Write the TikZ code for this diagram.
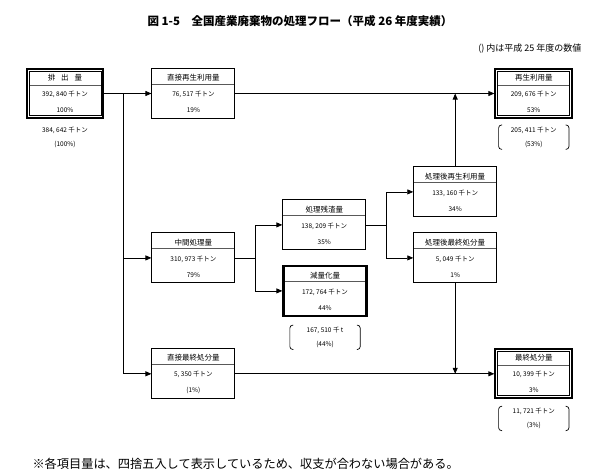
\documentclass[tikz,border=0pt]{standalone}
\usepackage{fontspec}
\setmainfont{Noto Sans CJK JP}
\usepackage{tikz}
\usetikzlibrary{arrows.meta,positioning,fit,calc}

\newcommand\flowfont{\fontsize{6.5}{16}\selectfont}
\newcommand\flowhead{\fontsize{7.5}{16}\selectfont}

\begin{document}
\begin{tikzpicture}[
  flow/.style={draw, line width=0.9pt, minimum width=83pt, minimum height=50pt,
               inner sep=0pt, align=center, font=\flowfont,
               path picture={\draw[line width=0.6pt, gray!70!black]
                 ($(path picture bounding box.north west)!0.31!(path picture bounding box.south west)$) --
                 ($(path picture bounding box.north east)!0.31!(path picture bounding box.south east)$);}},
  flowmain/.style={flow, minimum width=72pt, minimum height=44pt},
  cut/.style={flow, line width=2.4pt},
  frame/.style={draw, line width=2pt, inner sep=2pt},
  note/.style={minimum width=70pt, minimum height=24pt, inner sep=0pt, align=center,
               font=\fontsize{6.5}{14}\selectfont},
  paren/.style={line width=0.7pt, rounded corners=3pt},
  arr/.style={-{Triangle[length=6pt, width=5pt]}, line width=0.8pt}
]
  \useasboundingbox (0,0) rectangle (595pt,-475pt);

  \node[font=\fontsize{11.5}{14}\selectfont\bfseries] (title) at (300pt,-21pt)
    {図 1-5　全国産業廃棄物の処理フロー（平成 26 年度実績）};
  \node[anchor=east, font=\fontsize{9}{10}\selectfont] (memo) at (585pt,-49pt)
    {() 内は平成 25 年度の数値};

  % top row
  \node[flowmain] (hai) at (65pt,-93.5pt) {{\flowhead 排\hspace{0.8em}出\hspace{0.8em}量}\\392, 840 千トン\\100\%};
  \node[frame, fit=(hai)] (hai-f) {};
  \node[flow, right=47pt of hai-f] (chokusai) {{\flowhead 直接再生利用量}\\76, 517 千トン\\19\%};
  \node[flowmain, right=262pt of chokusai] (saisei) {{\flowhead 再生利用量}\\209, 676 千トン\\53\%};
  \node[frame, fit=(saisei)] (saisei-f) {};

  % middle
  \node[flow, below=113.5pt of chokusai] (chukan) {{\flowhead 中間処理量}\\310, 973 千トン\\79\%};
  \node[flow, right=47pt of chukan, yshift=33pt] (zansa) {{\flowhead 処理残渣量}\\138, 209 千トン\\35\%};
  \node[cut, right=47pt of chukan, yshift=-33pt] (genryo) {{\flowhead 減量化量}\\172, 764 千トン\\44\%};
  \node[flow, right=47pt of zansa, yshift=33pt] (gosai) {{\flowhead 処理後再生利用量}\\133, 160 千トン\\34\%};
  \node[flow, right=47pt of zansa, yshift=-33pt] (goshobun) {{\flowhead 処理後最終処分量}\\5, 049 千トン\\1\%};

  % bottom row
  \node[flow, below=65pt of chukan] (chokushobun) {{\flowhead 直接最終処分量}\\5, 350 千トン\\(1\%)};
  \node[flowmain, right=262pt of chokushobun] (saishu) {{\flowhead 最終処分量}\\10, 399 千トン\\3\%};
  \node[frame, fit=(saishu)] (saishu-f) {};

  % previous year values
  \node[note, below=6pt of hai-f] (hai-n) {384, 642 千トン\\(100\%)};
  \node[note, below=6pt of saisei-f] (saisei-n) {205, 411 千トン\\(53\%)};
  \node[note, below=8pt of genryo] (genryo-n) {167, 510 千 t\\(44\%)};
  \node[note, below=7pt of saishu-f] (saishu-n) {11, 721 千トン\\(3\%)};

  \draw[paren] ([xshift=3.5pt]saisei-n.north west) -- (saisei-n.north west) -- (saisei-n.south west) -- ([xshift=3.5pt]saisei-n.south west);
  \draw[paren] ([xshift=-3.5pt]saisei-n.north east) -- (saisei-n.north east) -- (saisei-n.south east) -- ([xshift=-3.5pt]saisei-n.south east);
  \draw[paren] ([xshift=3.5pt]genryo-n.north west) -- (genryo-n.north west) -- (genryo-n.south west) -- ([xshift=3.5pt]genryo-n.south west);
  \draw[paren] ([xshift=-3.5pt]genryo-n.north east) -- (genryo-n.north east) -- (genryo-n.south east) -- ([xshift=-3.5pt]genryo-n.south east);
  \draw[paren] ([xshift=3.5pt]saishu-n.north west) -- (saishu-n.north west) -- (saishu-n.south west) -- ([xshift=3.5pt]saishu-n.south west);
  \draw[paren] ([xshift=-3.5pt]saishu-n.north east) -- (saishu-n.north east) -- (saishu-n.south east) -- ([xshift=-3.5pt]saishu-n.south east);

  % connectors
  \coordinate (j1) at ([xshift=19pt]hai-f.east);
  \coordinate (j2) at ([xshift=20pt]chukan.east);
  \coordinate (j3) at ([xshift=20pt]zansa.east);

  \draw[arr] (hai-f.east) -- (chokusai.west);
  \draw[arr] (j1) |- (chukan.west);
  \draw[arr] (j1) |- (chokushobun.west);
  \draw[arr] (chokusai.east) -- (saisei-f.west);
  \draw[arr] (gosai.north) -- (gosai.north |- saisei-f.west);
  \draw[arr] (chukan.east) -- (j2) |- (zansa.west);
  \draw[arr] (j2) |- (genryo.west);
  \draw[arr] (zansa.east) -- (j3) |- (gosai.west);
  \draw[arr] (j3) |- (goshobun.west);
  \draw[arr] (goshobun.south) -- (goshobun.south |- saishu-f.west);
  \draw[arr] (chokushobun.east) -- (saishu-f.west);

  \node[anchor=west, font=\fontsize{12.2}{14}\selectfont] (foot) at (29pt,-464pt)
    {※各項目量は、四捨五入して表示しているため、収支が合わない場合がある。};
\end{tikzpicture}
\end{document}
